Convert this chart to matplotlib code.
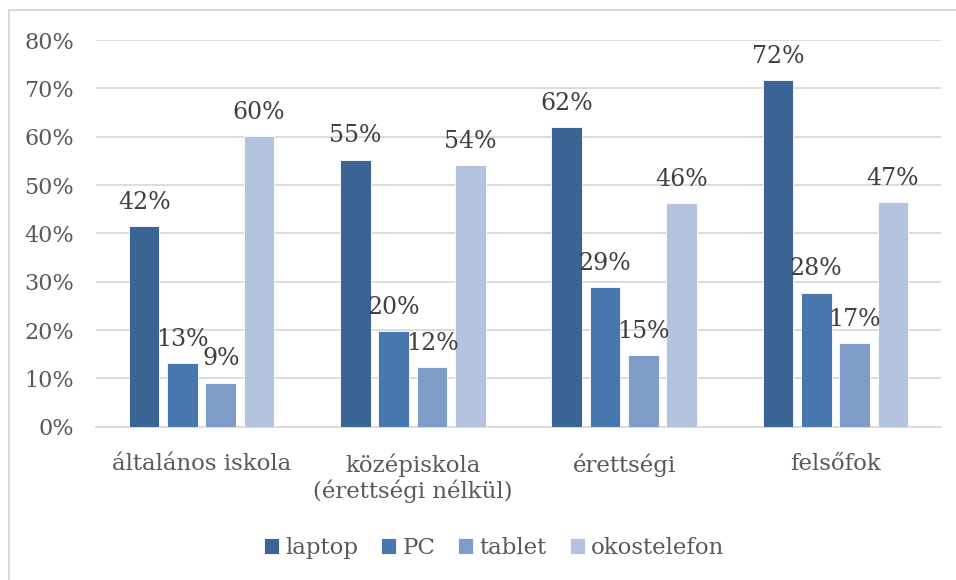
import numpy as np
import matplotlib.pyplot as plt
from matplotlib.patches import Rectangle

categories = ["általános iskola", "középiskola\n(érettségi nélkül)", "érettségi", "felsőfok"]
series = ["laptop", "PC", "tablet", "okostelefon"]
laptop = [41.5, 55.2, 62.0, 71.7]
pc = [13.1, 19.7, 28.9, 27.7]
tablet = [9.1, 12.3, 14.8, 17.3]
okostelefon = [60.1, 54.1, 46.2, 46.5]
labels = {
    "laptop": ["42%", "55%", "62%", "72%"],
    "PC": ["13%", "20%", "29%", "28%"],
    "tablet": ["9%", "12%", "15%", "17%"],
    "okostelefon": ["60%", "54%", "46%", "47%"],
}
colors = ["#3b6495", "#4877b0", "#7f9cc8", "#b4c3de"]

plt.rcParams['font.family'] = ['DejaVu Serif']

fig = plt.figure(figsize=(9.56, 5.8), dpi=100)
ax = fig.add_axes([0.1004, 0.2643, 0.8839, 0.6667])

# chart border
fig.patches.append(Rectangle((9 / 956, -0.1), 1.2, 1 - 10 / 580 + 0.1,
                             transform=fig.transFigure, fill=False,
                             edgecolor="#d9d9d9", linewidth=1.4))

x = np.arange(len(categories))
pitch = 0.1815
width = 0.145
for i, (name, vals) in enumerate(zip(series, [laptop, pc, tablet, okostelefon])):
    pos = x + (i - 1.5) * pitch
    ax.bar(pos, np.array(vals) / 100, width=width, color=colors[i],
           edgecolor="white", linewidth=0.6, label=name, zorder=3)
    for p, v, t in zip(pos, vals, labels[name]):
        ax.text(p, v / 100 + 0.036, t, ha="center", va="baseline",
                fontsize=17, color="#404040", zorder=4)

ax.set_xlim(-0.5, 3.5)
ax.set_ylim(0, 0.8)
ax.set_yticks(np.arange(0, 0.81, 0.1))
ax.set_yticklabels([f"{int(round(v * 100))}%" for v in np.arange(0, 0.81, 0.1)])
ax.yaxis.grid(True, color="#d9d9d9", linewidth=1.3, zorder=0)
ax.set_axisbelow(True)
for s in ["top", "right", "left"]:
    ax.spines[s].set_visible(False)
ax.spines["bottom"].set_color("#d9d9d9")
ax.spines["bottom"].set_linewidth(1.3)
ax.tick_params(axis="y", length=0, labelsize=16, colors="#595959", pad=16)
ax.tick_params(axis="x", length=0, labelsize=16.5, colors="#595959", pad=19)
ax.set_xticks(x)
ax.set_xticklabels(categories, linespacing=1.15)

ax.legend(loc="center", bbox_to_anchor=(0.517, 0.055), bbox_transform=fig.transFigure,
          ncol=4, frameon=False, fontsize=16.5, labelcolor="#595959",
          handlelength=0.65, handleheight=0.65, handletextpad=0.27, columnspacing=1.0)

fig.savefig("out.png", dpi=100)
